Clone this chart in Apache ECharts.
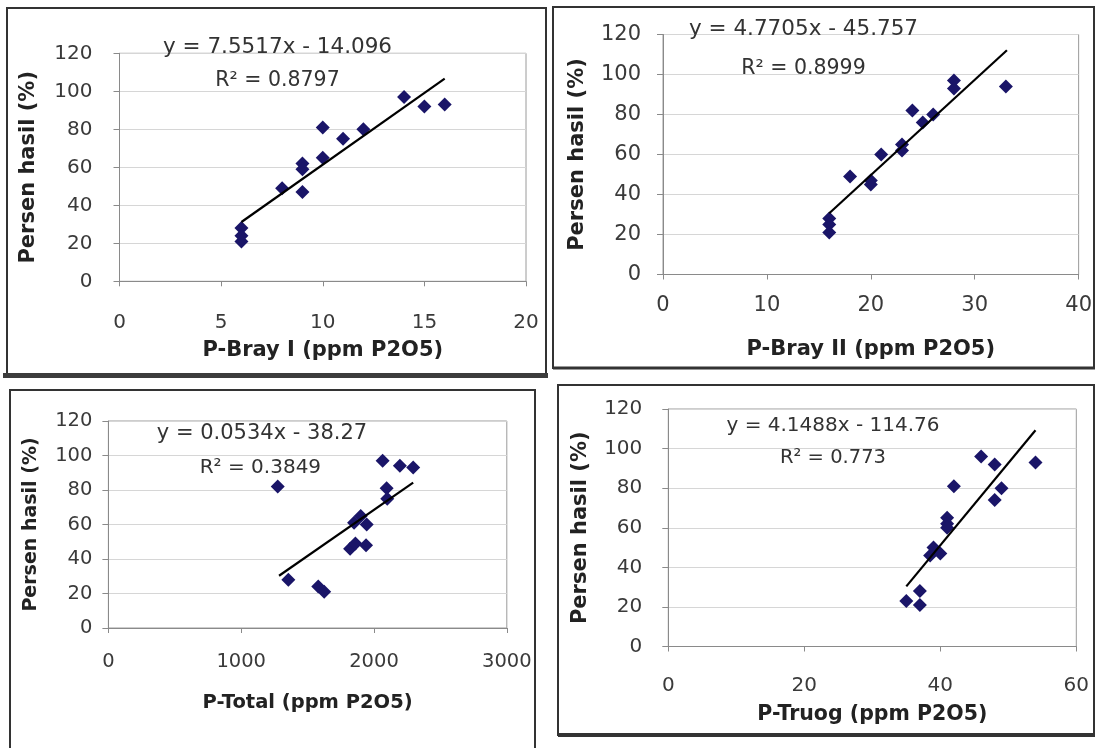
<!DOCTYPE html>
<html>
<head>
<meta charset="utf-8">
<script src="https://cdn.jsdelivr.net/npm/echarts@6/dist/echarts.min.js"></script>
<style>
html,body{margin:0;padding:0;background:#ffffff;}
#chart{width:1095px;height:748px;}
</style>
</head>
<body>
<div id="chart"></div>
<script>
// ---------- data ----------
const yTicks = [0, 20, 40, 60, 80, 100, 120];

const bray1X = [6, 6, 6, 8, 9, 9, 9, 10, 10, 11, 12, 14, 15, 16];
const bray1Y = [28, 24, 21, 49, 62, 59, 47, 81, 65, 75, 80, 97, 92, 93];
const bray1Trend = [[6, 31.2], [16, 106.7]];

const bray2X = [16, 16, 16, 18, 20, 20, 21, 23, 23, 24, 25, 26, 28, 28, 33];
const bray2Y = [28, 25, 21, 49, 47, 45, 60, 65, 62, 82, 76, 80, 97, 93, 94];
const bray2Trend = [[16, 30.6], [33.1, 112.1]];

const totalX = [1275, 1355, 1580, 1625, 1820, 1860, 1940, 1850, 1900, 1945, 2065, 2095, 2100, 2195, 2295];
const totalY = [82, 28, 24, 21, 46, 49, 48, 61, 65, 60, 97, 81, 75, 94, 93];
const totalTrend = [[1285, 30.3], [2295, 84.3]];

const truogX = [35, 37, 37, 38.5, 39, 40, 41, 41, 41, 42, 46, 48, 48, 49, 54];
const truogY = [23, 28, 21, 46, 50, 47, 65, 62, 60, 81, 96, 92, 74, 80, 93];
const truogTrend = [[35, 30.4], [54, 109.3]];

const xTicks1 = [0, 5, 10, 15, 20];
const xTicks2 = [0, 10, 20, 30, 40];
const xTicks3 = [0, 1000, 2000, 3000];
const xTicks4 = [0, 20, 40, 60];

const xNames = ['P-Bray I (ppm P2O5)', 'P-Bray II (ppm P2O5)', 'P-Total (ppm P2O5)', 'P-Truog (ppm P2O5)'];
const yName = 'Persen hasil (%)';
const equations = ['y = 7.5517x - 14.096', 'y = 4.7705x - 45.757', 'y = 0.0534x - 38.27', 'y = 4.1488x - 114.76'];
const r2Labels = ['R\u00b2 = 0.8797', 'R\u00b2 = 0.8999', 'R\u00b2 = 0.3849', 'R\u00b2 = 0.773'];

// ---------- layout (positions / styles) ----------
const FONT = 'DejaVu Sans';
const panels = [
  {xs: bray1X, ys: bray1Y, trend: bray1Trend, ticks: xTicks1,
   grid: {left: 119.5, top: 53.3, width: 406.5, height: 228},
   tickFs: 20, xMargin: 31, yMargin: 27, titleFs: 21, xGap: 59, yTitleFs: 21, yGap: 80,
   eq: [277.5, 47, 21.5], r2: [277.5, 81, 20.5]},
  {xs: bray2X, ys: bray2Y, trend: bray2Trend, ticks: xTicks2,
   grid: {left: 663, top: 34.5, width: 418, height: 240},
   tickFs: 21, xMargin: 21, yMargin: 22, titleFs: 21, xGap: 65, yTitleFs: 21, yGap: 75,
   eq: [803.5, 29.5, 21.5], r2: [803.5, 69, 20.5]},
  {xs: totalX, ys: totalY, trend: totalTrend, ticks: xTicks3,
   grid: {left: 108.4, top: 421, width: 398.4, height: 207},
   tickFs: 19.5, xMargin: 24, yMargin: 16, titleFs: 19.5, xGap: 65, yTitleFs: 19, yGap: 68,
   eq: [262, 434, 21], r2: [260.4, 468, 20]},
  {xs: truogX, ys: truogY, trend: truogTrend, ticks: xTicks4,
   grid: {left: 668.3, top: 409, width: 408, height: 237.5},
   tickFs: 20, xMargin: 29, yMargin: 26, titleFs: 20.5, xGap: 58, yTitleFs: 21, yGap: 77,
   eq: [833, 426, 20], r2: [833, 457.5, 19.5]}
];

const grids = [], xAxes = [], yAxes = [], series = [], texts = [];
panels.forEach((p, i) => {
  grids.push(Object.assign({show: true, borderColor: '#9a9a9a', borderWidth: 1, backgroundColor: 'transparent'}, p.grid));
  const t = p.ticks;
  xAxes.push({
    type: 'value', gridIndex: i, min: t[0], max: t[t.length - 1], interval: t[1] - t[0],
    axisLine: {show: true, onZero: false, lineStyle: {color: '#8a8a8a', width: 1}},
    axisTick: {show: true, length: 5, lineStyle: {color: '#8a8a8a'}},
    splitLine: {show: false},
    axisLabel: {fontFamily: FONT, fontSize: p.tickFs, color: '#3a3a3a', margin: p.xMargin, showMaxLabel: true, showMinLabel: true,
      formatter: v => String(v)},
    name: xNames[i], nameLocation: 'middle', nameGap: p.xGap,
    nameTextStyle: {fontFamily: FONT, fontWeight: 'bold', fontSize: p.titleFs, color: '#222'}
  });
  yAxes.push({
    type: 'value', gridIndex: i, min: yTicks[0], max: yTicks[yTicks.length - 1], interval: yTicks[1] - yTicks[0],
    axisLine: {show: true, lineStyle: {color: '#8a8a8a', width: 1}},
    axisTick: {show: true, length: 6, lineStyle: {color: '#8a8a8a'}},
    splitLine: {show: true, lineStyle: {color: '#d6d6d6', width: 1}},
    axisLabel: {fontFamily: FONT, fontSize: p.tickFs, color: '#3a3a3a', margin: p.yMargin, showMaxLabel: true, showMinLabel: true,
      formatter: v => String(v)},
    name: yName, nameLocation: 'middle', nameGap: p.yGap,
    nameTextStyle: {fontFamily: FONT, fontWeight: 'bold', fontSize: p.yTitleFs, color: '#222'}
  });
  series.push({
    type: 'scatter', xAxisIndex: i, yAxisIndex: i, symbol: 'diamond', symbolSize: 14,
    itemStyle: {color: '#1a1568', opacity: 1},
    data: p.xs.map((x, k) => [x, p.ys[k]]), z: 3
  });
  series.push({
    type: 'line', xAxisIndex: i, yAxisIndex: i, showSymbol: false, symbol: 'none',
    lineStyle: {color: '#000', width: 2.2}, data: p.trend, z: 4, silent: true
  });
  texts.push({type: 'text', z: 100, style: {x: p.eq[0], y: p.eq[1], text: equations[i], align: 'center', verticalAlign: 'middle',
    font: p.eq[2] + 'px "' + FONT + '"', fill: '#333'}});
  texts.push({type: 'text', z: 100, style: {x: p.r2[0], y: p.r2[1], text: r2Labels[i], align: 'center', verticalAlign: 'middle',
    font: p.r2[2] + 'px "' + FONT + '"', fill: '#333'}});
});

const frames = [
  {type: 'rect', shape: {x: 7, y: 8, width: 539, height: 366}, style: {fill: 'none', stroke: '#333', lineWidth: 2}},
  {type: 'line', shape: {x1: 3, y1: 375.5, x2: 548, y2: 375.5}, style: {stroke: '#3c3c3c', lineWidth: 5}},
  {type: 'rect', shape: {x: 553, y: 7, width: 541, height: 361}, style: {fill: 'none', stroke: '#333', lineWidth: 2}},
  {type: 'line', shape: {x1: 553, y1: 368, x2: 1095, y2: 368}, style: {stroke: '#333', lineWidth: 3}},
  {type: 'rect', shape: {x: 10, y: 390, width: 525, height: 370}, style: {fill: 'none', stroke: '#333', lineWidth: 2}},
  {type: 'rect', shape: {x: 558, y: 385, width: 536, height: 350}, style: {fill: 'none', stroke: '#333', lineWidth: 2}},
  {type: 'line', shape: {x1: 558, y1: 735, x2: 1095, y2: 735}, style: {stroke: '#333', lineWidth: 4}}
];

const chart = echarts.init(document.getElementById('chart'), null, {renderer: 'canvas'});
chart.setOption({
  backgroundColor: '#ffffff',
  animation: false,
  grid: grids,
  xAxis: xAxes,
  yAxis: yAxes,
  series: series,
  graphic: frames.concat(texts)
});
</script>
</body>
</html>
